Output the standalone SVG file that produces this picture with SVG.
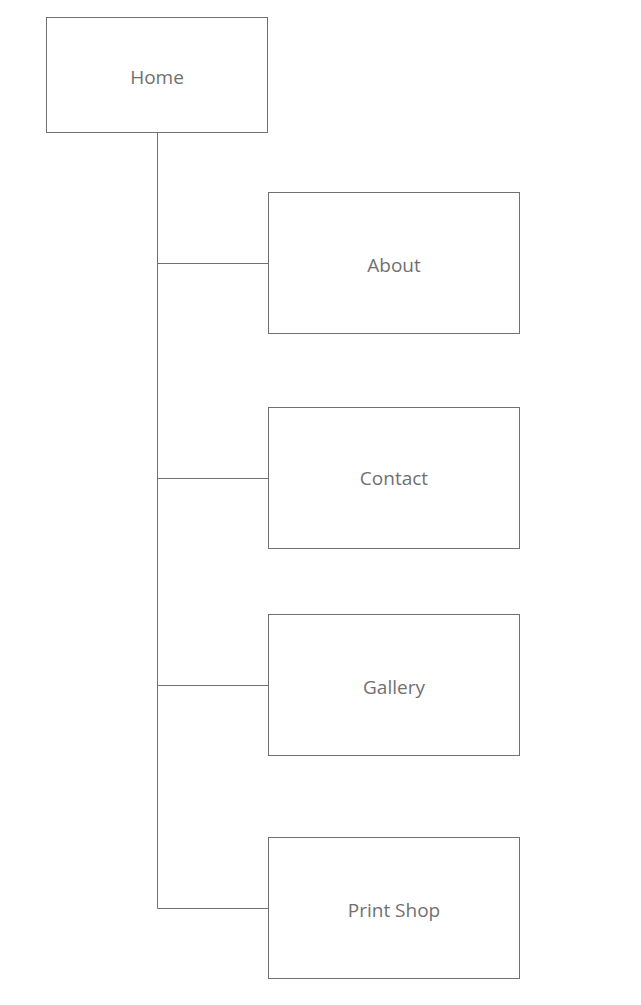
<svg xmlns="http://www.w3.org/2000/svg" width="641" height="1005" viewBox="0 0 641 1005">
<style>
.box{fill:#ffffff;stroke:#707070;stroke-width:1}
.lbl{font-family:"Open Sans","Noto Sans","Liberation Sans",sans-serif;font-size:19px;fill:#707070;text-anchor:middle;dominant-baseline:central}
.conn{fill:none;stroke:#707070;stroke-width:1}
</style>
<rect width="641" height="1005" fill="#ffffff"/>
<g id="connectors">
<path class="conn" d="M157.5 132.5 V908.5"/>
<path class="conn" d="M157.5 263.5 H268.5"/>
<path class="conn" d="M157.5 478.5 H268.5"/>
<path class="conn" d="M157.5 685.5 H268.5"/>
<path class="conn" d="M157.5 908.5 H268.5"/>
</g>
<g id="home"><rect class="box" x="46.5" y="17.5" width="221" height="115"/><text class="lbl" x="157" y="77">Home</text></g>
<g id="about"><rect class="box" x="268.5" y="192.5" width="251" height="141"/><text class="lbl" x="394" y="265">About</text></g>
<g id="contact"><rect class="box" x="268.5" y="407.5" width="251" height="141"/><text class="lbl" x="394" y="478">Contact</text></g>
<g id="gallery"><rect class="box" x="268.5" y="614.5" width="251" height="141"/><text class="lbl" x="394" y="687">Gallery</text></g>
<g id="printshop"><rect class="box" x="268.5" y="837.5" width="251" height="141"/><text class="lbl" x="394" y="910">Print Shop</text></g>
</svg>
